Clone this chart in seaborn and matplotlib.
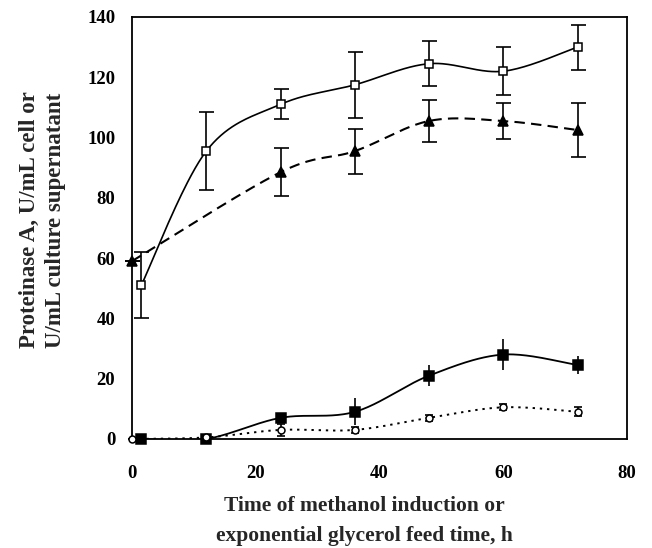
import numpy as np
import pandas as pd
import matplotlib
matplotlib.use("Agg")
import matplotlib.pyplot as plt
import seaborn as sns

# ---- data ----
x_open_sq = [1.5, 12, 24, 36, 48, 60, 72]
y_open_sq = [51, 95.5, 111, 117.5, 124.5, 122, 130]
e_open_sq = [11, 13, 5, 11, 7.5, 8, 7.5]

x_tri = [0, 24, 36, 48, 60, 72]
y_tri = [59, 88.5, 95.5, 105.5, 105.5, 102.5]
e_tri = [0, 8, 7.5, 7, 6, 9]

x_fill_sq = [1.5, 12, 24, 36, 48, 60, 72]
y_fill_sq = [0, 0, 7, 9, 21, 28, 24.5]
e_fill_sq = [0, 0, 1, 4.5, 3.5, 5, 3]

x_circ = [0, 12, 24, 36, 48, 60, 72]
y_circ = [0, 0.5, 3, 3, 7, 10.5, 9]
e_circ = [0, 0, 2, 1, 1, 1, 1.5]

x_ticks = [0, 20, 40, 60, 80]
y_ticks = [0, 20, 40, 60, 80, 100, 120, 140]


def smooth(xs, ys, n=40):
    """Excel-like smoothed line (cubic Bezier with Catmull-Rom control points)."""
    P = np.column_stack([xs, ys]).astype(float)
    out = []
    m = len(P)
    for i in range(m - 1):
        p0 = P[i - 1] if i > 0 else P[i]
        p1 = P[i]
        p2 = P[i + 1]
        p3 = P[i + 2] if i + 2 < m else P[i + 1]
        c1 = p1 + (p2 - p0) / 6.0
        c2 = p2 - (p3 - p1) / 6.0
        t = np.linspace(0, 1, n)[:, None]
        seg = ((1 - t) ** 3) * p1 + 3 * ((1 - t) ** 2) * t * c1 + 3 * (1 - t) * t ** 2 * c2 + t ** 3 * p2
        out.append(seg if i == 0 else seg[1:])
    S = np.vstack(out)
    return pd.DataFrame({"x": S[:, 0], "y": S[:, 1], "i": np.arange(len(S))})


sns.set_style("white")
plt.rcParams["font.family"] = ["Liberation Serif", "DejaVu Serif"]
plt.rcParams["font.weight"] = "bold"

fig = plt.figure(figsize=(6.52, 5.48), dpi=100)
ax = fig.add_axes([0.2025, 0.199, 0.7592, 0.770])

series = [
    (x_open_sq, y_open_sq, e_open_sq, "s", "white", "-", 1.2, 5.4, 6),
    (x_tri, y_tri, e_tri, "^", "black", (0, (5, 3)), 1.5, 5.4, 6.5),
    (x_fill_sq, y_fill_sq, e_fill_sq, "s", "black", "-", 1.3, 0, 6.5),
    (x_circ, y_circ, e_circ, "o", "white", (0, (1.2, 2.5)), 1.4, 3, 5),
]

for xs, ys, es, mk, fc, ls, lw, cap, ms in series:
    df = smooth(xs, ys)
    sns.lineplot(data=df, x="x", y="y", sort=False, estimator=None, ax=ax,
                 color="black", linewidth=lw, linestyle=ls)
    ax.errorbar(xs, ys, yerr=es, fmt="none", ecolor="black", elinewidth=1.2,
                capsize=cap, capthick=1.2, zorder=3, clip_on=False)
    ax.plot(xs, ys, linestyle="none", marker=mk, markersize=ms,
            markerfacecolor=fc, markeredgecolor="black", markeredgewidth=1.1,
            zorder=4, clip_on=False)

ax.set_xlim(0, 80)
ax.set_ylim(0, 140)
ax.set_xticks(x_ticks)
ax.set_yticks(y_ticks)
ax.tick_params(direction="in", length=4, width=1, colors="black", labelsize=13.5)
ax.tick_params(axis="x", pad=19)
ax.tick_params(axis="y", pad=12)
for lab in ax.get_xticklabels() + ax.get_yticklabels():
    lab.set_fontweight("bold")

for s in ax.spines.values():
    s.set_color("black")
    s.set_linewidth(1.3)
    s.set_visible(True)

ax.set_xlabel("Time of methanol induction or\nexponential glycerol feed time, h",
              fontsize=15.5, fontweight="bold", linespacing=1.65)
ax.set_ylabel("Proteinase A, U/mL cell or\nU/mL culture supernatant",
              fontsize=16.5, fontweight="bold", linespacing=1.3)
ax.xaxis.set_label_coords(0.47, -0.135)
ax.yaxis.set_label_coords(-0.133, 0.519)

fig.savefig("out.png", dpi=100, facecolor="white")
